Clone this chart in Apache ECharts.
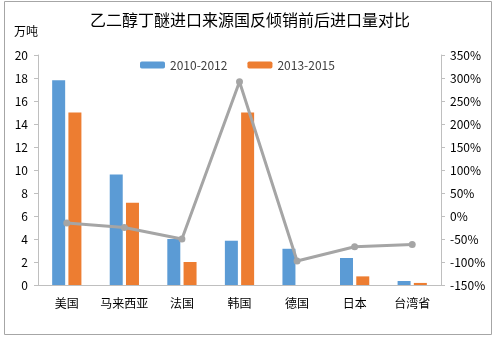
<!DOCTYPE html>
<html><head><meta charset="utf-8">
<script src="https://cdn.jsdelivr.net/npm/echarts@6/dist/echarts.min.js"></script>
<style>html,body{margin:0;padding:0;background:#fff}#c{width:500px;height:341px}</style>
</head><body><div id="c"></div>
<script>
const categories = ['美国','马来西亚','法国','韩国','德国','日本','台湾省'];
const series2010 = [17.8, 9.6, 4.0, 3.85, 3.15, 2.35, 0.35];
const series2013 = [15.0, 7.15, 2.0, 15.0, 0, 0.75, 0.18];
const changePct = [-15, -25, -50, 292, -98, -67, -62];
const font = '"Noto Sans CJK SC", "Noto Sans", sans-serif';
const chart = echarts.init(document.getElementById('c'), null, {renderer:'canvas'});
chart.setOption({
  animation:false,
  textStyle:{fontFamily:font},
  title:{text:'乙二醇丁醚进口来源国反倾销前后进口量对比', left:'center', top:7,
    textStyle:{fontSize:16, fontWeight:'normal', color:'#000', fontFamily:font}},
  graphic:[
    {type:'rect', shape:{x:4.5,y:1.5,width:487,height:333}, style:{fill:'none', stroke:'#a6a6a6', lineWidth:1}, silent:true},
    {type:'text', left:14, top:25, style:{text:'万吨', fontSize:12, fill:'#000', fontFamily:font}}
  ],
  legend:{top:59, left:140, padding:0, itemWidth:25, itemHeight:7, itemGap:20,
    data:['2010-2012','2013-2015'],
    textStyle:{fontSize:12, color:'#404040', fontFamily:font}},
  grid:{left:38, right:59, top:55, bottom:56},
  xAxis:{type:'category', data:categories,
    axisLine:{lineStyle:{color:'#bfbfbf'}}, axisTick:{show:false},
    axisLabel:{color:'#000', fontSize:12, margin:12, interval:0, fontFamily:font}},
  yAxis:[
    {type:'value', min:0, max:20, interval:2,
      axisLine:{show:true, lineStyle:{color:'#bfbfbf'}},
      axisTick:{show:true, length:4, lineStyle:{color:'#bfbfbf'}},
      splitLine:{show:false},
      axisLabel:{color:'#000', fontSize:12, margin:10}},
    {type:'value', min:-150, max:350, interval:50,
      axisLine:{show:true, lineStyle:{color:'#bfbfbf'}},
      axisTick:{show:true, length:4, lineStyle:{color:'#bfbfbf'}},
      splitLine:{show:false},
      axisLabel:{color:'#000', fontSize:12, margin:9, formatter:'{value}%'}}
  ],
  series:[
    {name:'2010-2012', type:'bar', data:series2010, barWidth:13, barGap:'25%',
      itemStyle:{color:'#5b9bd5'}},
    {name:'2013-2015', type:'bar', data:series2013, barWidth:13,
      itemStyle:{color:'#ed7d31'}},
    {name:'变化率', type:'line', yAxisIndex:1, data:changePct,
      symbol:'circle', symbolSize:7,
      lineStyle:{color:'#a5a5a5', width:3}, itemStyle:{color:'#a5a5a5'}, z:5}
  ]
});
</script></body></html>
